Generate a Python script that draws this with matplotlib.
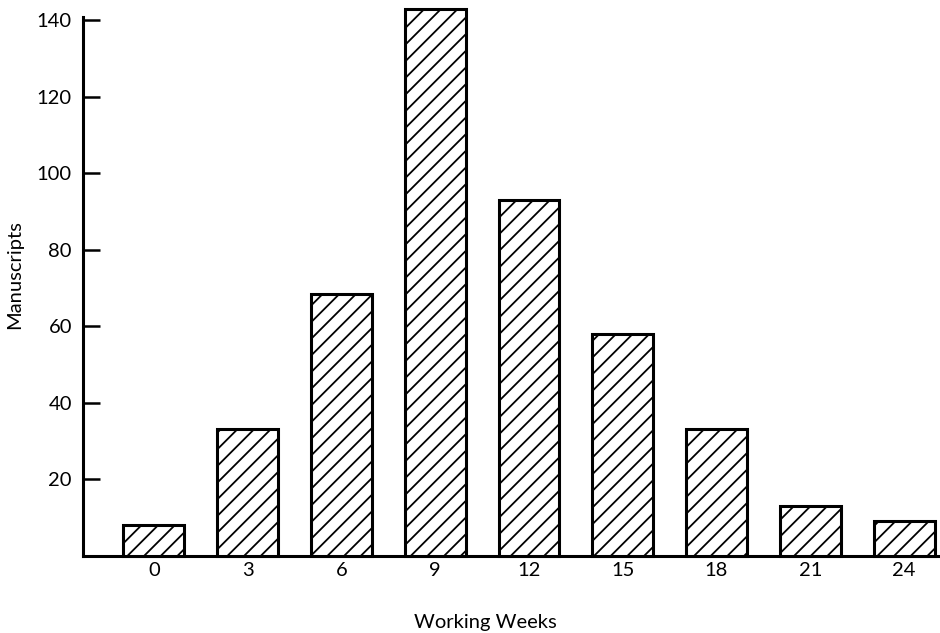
import matplotlib
matplotlib.use("Agg")
import matplotlib.pyplot as plt

weeks = [0, 3, 6, 9, 12, 15, 18, 21, 24]
manuscripts = [8, 33, 68.5, 143, 93, 58, 33, 13, 9]
ytick_vals = [20, 40, 60, 80, 100, 120, 140]

plt.rcParams["font.family"] = ["Lato", "DejaVu Sans"]
plt.rcParams["hatch.linewidth"] = 1.3

fig = plt.figure(figsize=(9.4, 6.33), dpi=100)
ax = fig.add_axes([0.0883, 0.1224, 0.9097, 0.8506])

bars = ax.bar(weeks, manuscripts, width=1.95, color="white", edgecolor="black",
              linewidth=2.2, hatch="//", clip_on=False, zorder=3)

ax.set_xlim(-2.27, 25.09)
ax.set_ylim(0, 140.8)

ax.spines["top"].set_visible(False)
ax.spines["right"].set_visible(False)
ax.spines["left"].set_linewidth(2.2)
ax.spines["bottom"].set_linewidth(2.2)

ax.set_xticks(weeks)
ax.set_xticklabels([str(w) for w in weeks])
ax.set_yticks(ytick_vals)
ax.tick_params(axis="x", length=0, pad=5, labelsize=14.5)
ax.tick_params(axis="y", direction="in", length=12, width=1.8, pad=8, labelsize=14.5)

ax.set_xlabel("Working Weeks", fontsize=14.5)
ax.xaxis.set_label_coords(0.47, -0.108)
ax.set_ylabel("Manuscripts", fontsize=14.5)
ax.yaxis.set_label_coords(-0.070, 0.521)

fig.savefig("out.png", dpi=100)
